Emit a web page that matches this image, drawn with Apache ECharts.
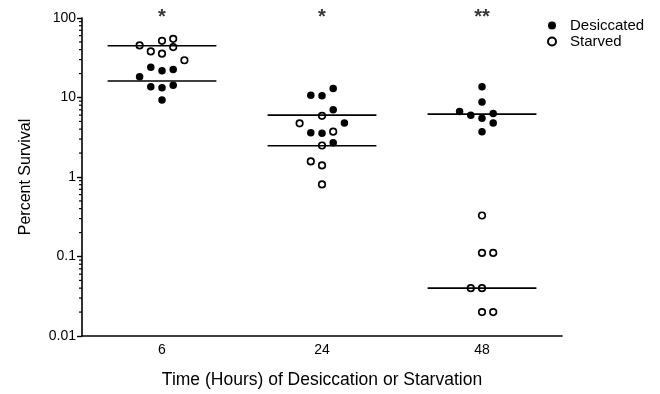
<!DOCTYPE html>
<html><head><meta charset="utf-8">
<script src="https://cdn.jsdelivr.net/npm/echarts@6/dist/echarts.min.js"></script>
<style>html,body{margin:0;padding:0;background:#fff}#c{width:660px;height:394px}</style>
</head><body><div id="c"></div>
<script>
// ---- data ----
const categories = ['6', '24', '48'];
const seriesNames = ['Desiccated', 'Starved'];

// Percent survival per time point
const desiccated6  = [24.0, 21.7, 22.5, 18.2, 13.7, 13.3, 14.3, 9.3];
const desiccated24 = [13.0, 10.7, 10.5, 7.0, 4.78, 3.6, 3.55, 2.69];
const desiccated48 = [13.7, 8.8, 6.68, 6.0, 5.47, 6.31, 4.78, 3.72];
const starved6  = [45.2, 38.0, 51.7, 35.6, 54.7, 43.1, 29.4];
const starved24 = [5.89, 4.73, 3.72, 2.49, 1.57, 1.40, 0.807];
const starved48 = [0.328, 0.111, 0.111, 0.04, 0.04, 0.02, 0.02];

// horizontal spread of each point inside its column (category units)
const desiccatedJitter6  = [-0.07, 0, 0.07, -0.14, -0.07, 0, 0.07, 0];
const desiccatedJitter24 = [0.07, -0.07, 0, 0.07, 0.14, -0.07, 0, 0.07];
const desiccatedJitter48 = [0, 0, -0.14, -0.07, 0, 0.07, 0.07, 0];
const starvedJitter6  = [-0.14, -0.07, 0, 0, 0.07, 0.07, 0.14];
const starvedJitter24 = [0, -0.14, 0.07, 0, -0.07, 0, 0];
const starvedJitter48 = [0, 0, 0.07, -0.07, 0, 0, 0.07];

// group medians (horizontal bars)
const desiccatedMedians = [16.1, 6.0, 6.18];
const starvedMedians = [44.8, 2.47, 0.04];

// significance marks
const sigLabels = ['*', '*', '**'];
const sigLevel = 100;

// axis
const yMin = 0.01, yMax = 100;
const minorTickValues = [0.02,0.03,0.04,0.05,0.06,0.07,0.08,0.09,
  0.2,0.3,0.4,0.5,0.6,0.7,0.8,0.9, 2,3,4,5,6,7,8,9, 20,30,40,50,60,70,80,90];

// ---- build ----
const FONT = 'Liberation Sans, Arial, Helvetica, sans-serif';
function pts(groups, jitters) {
  const out = [];
  groups.forEach((g, ci) => g.forEach((v, k) => out.push([ci + jitters[ci][k], v])));
  return out;
}
const desData = pts([desiccated6, desiccated24, desiccated48], [desiccatedJitter6, desiccatedJitter24, desiccatedJitter48]);
const starData = pts([starved6, starved24, starved48], [starvedJitter6, starvedJitter24, starvedJitter48]);
const medianData = [];
desiccatedMedians.forEach((m, i) => medianData.push([i, m]));
starvedMedians.forEach((m, i) => medianData.push([i, m]));
const HALF = 0.34;

const chart = echarts.init(document.getElementById('c'), null, {renderer: 'canvas'});
chart.setOption({
  animation: false,
  backgroundColor: '#fff',
  textStyle: {fontFamily: FONT},
  grid: {left: 82, right: 98, top: 18, bottom: 55, containLabel: false},
  legend: {
    data: [
      {name: seriesNames[0], icon: 'circle'},
      {name: seriesNames[1], icon: 'circle'}
    ],
    orient: 'vertical', left: 542, top: 13,
    itemWidth: 26, itemHeight: 8, itemGap: 1,
    textStyle: {fontFamily: FONT, fontSize: 15, color: '#000'},
    selectedMode: false
  },
  xAxis: [{
    type: 'category', data: categories, boundaryGap: true,
    axisLine: {onZero: false, lineStyle: {color: '#000', width: 1.6}},
    axisTick: {alignWithLabel: true, length: 5, lineStyle: {color: '#000', width: 1.4}},
    axisLabel: {color: '#000', fontSize: 14, margin: 7, fontFamily: FONT},
    splitLine: {show: false},
    name: 'Time (Hours) of Desiccation or Starvation', nameLocation: 'middle', nameGap: 35,
    nameTextStyle: {color: '#000', fontSize: 17.5, fontFamily: FONT}
  }, {
    type: 'value', min: -0.5, max: 2.5, show: false
  }],
  yAxis: {
    type: 'log', logBase: 10, min: yMin, max: yMax,
    axisLine: {show: true, onZero: false, lineStyle: {color: '#000', width: 1.6}},
    axisTick: {show: true, length: 5, lineStyle: {color: '#000', width: 1.4}},
    axisLabel: {color: '#000', fontSize: 14, margin: 6, fontFamily: FONT, formatter: v => String(+v.toPrecision(3))},
    splitLine: {show: false},
    name: 'Percent Survival', nameLocation: 'middle', nameGap: 48, nameRotate: 90,
    nameTextStyle: {color: '#000', fontSize: 16, fontFamily: FONT}
  },
  series: [
    {
      name: seriesNames[0], type: 'scatter', xAxisIndex: 1, data: desData,
      symbol: 'circle', symbolSize: 7.5, itemStyle: {color: '#000', opacity: 1}, z: 3
    },
    {
      name: seriesNames[1], type: 'scatter', xAxisIndex: 1, data: starData,
      symbol: 'circle', symbolSize: 6.5,
      itemStyle: {color: '#fff', borderColor: '#000', borderWidth: 1.7, opacity: 1}, z: 3
    },
    {
      name: 'medians', type: 'custom', xAxisIndex: 1, data: medianData, z: 5, clip: false,
      renderItem: (params, api) => {
        const i = api.value(0), m = api.value(1);
        const p1 = api.coord([i - HALF, m]), p2 = api.coord([i + HALF, m]);
        return {type: 'line', shape: {x1: p1[0], y1: p1[1], x2: p2[0], y2: p2[1]},
          style: {stroke: '#000', lineWidth: 1.6}};
      }
    },
    {
      name: 'minorTicks', type: 'custom', xAxisIndex: 1, data: minorTickValues.map(v => [0, v]), clip: false,
      renderItem: (params, api) => {
        const y = api.coord([0, api.value(1)])[1];
        const x = params.coordSys.x;
        return {type: 'line', shape: {x1: x - 3, y1: y, x2: x, y2: y},
          style: {stroke: '#000', lineWidth: 1.2}};
      }
    },
    {
      name: 'sig', type: 'scatter', xAxisIndex: 1, symbolSize: 0,
      data: sigLabels.map((s, i) => [i, sigLevel]),
      label: {show: true, position: 'inside', offset: [0, -1],
        formatter: p => sigLabels[p.dataIndex],
        fontSize: 20, fontWeight: 'bold', color: '#000', fontFamily: FONT}
    }
  ]
});
</script></body></html>
